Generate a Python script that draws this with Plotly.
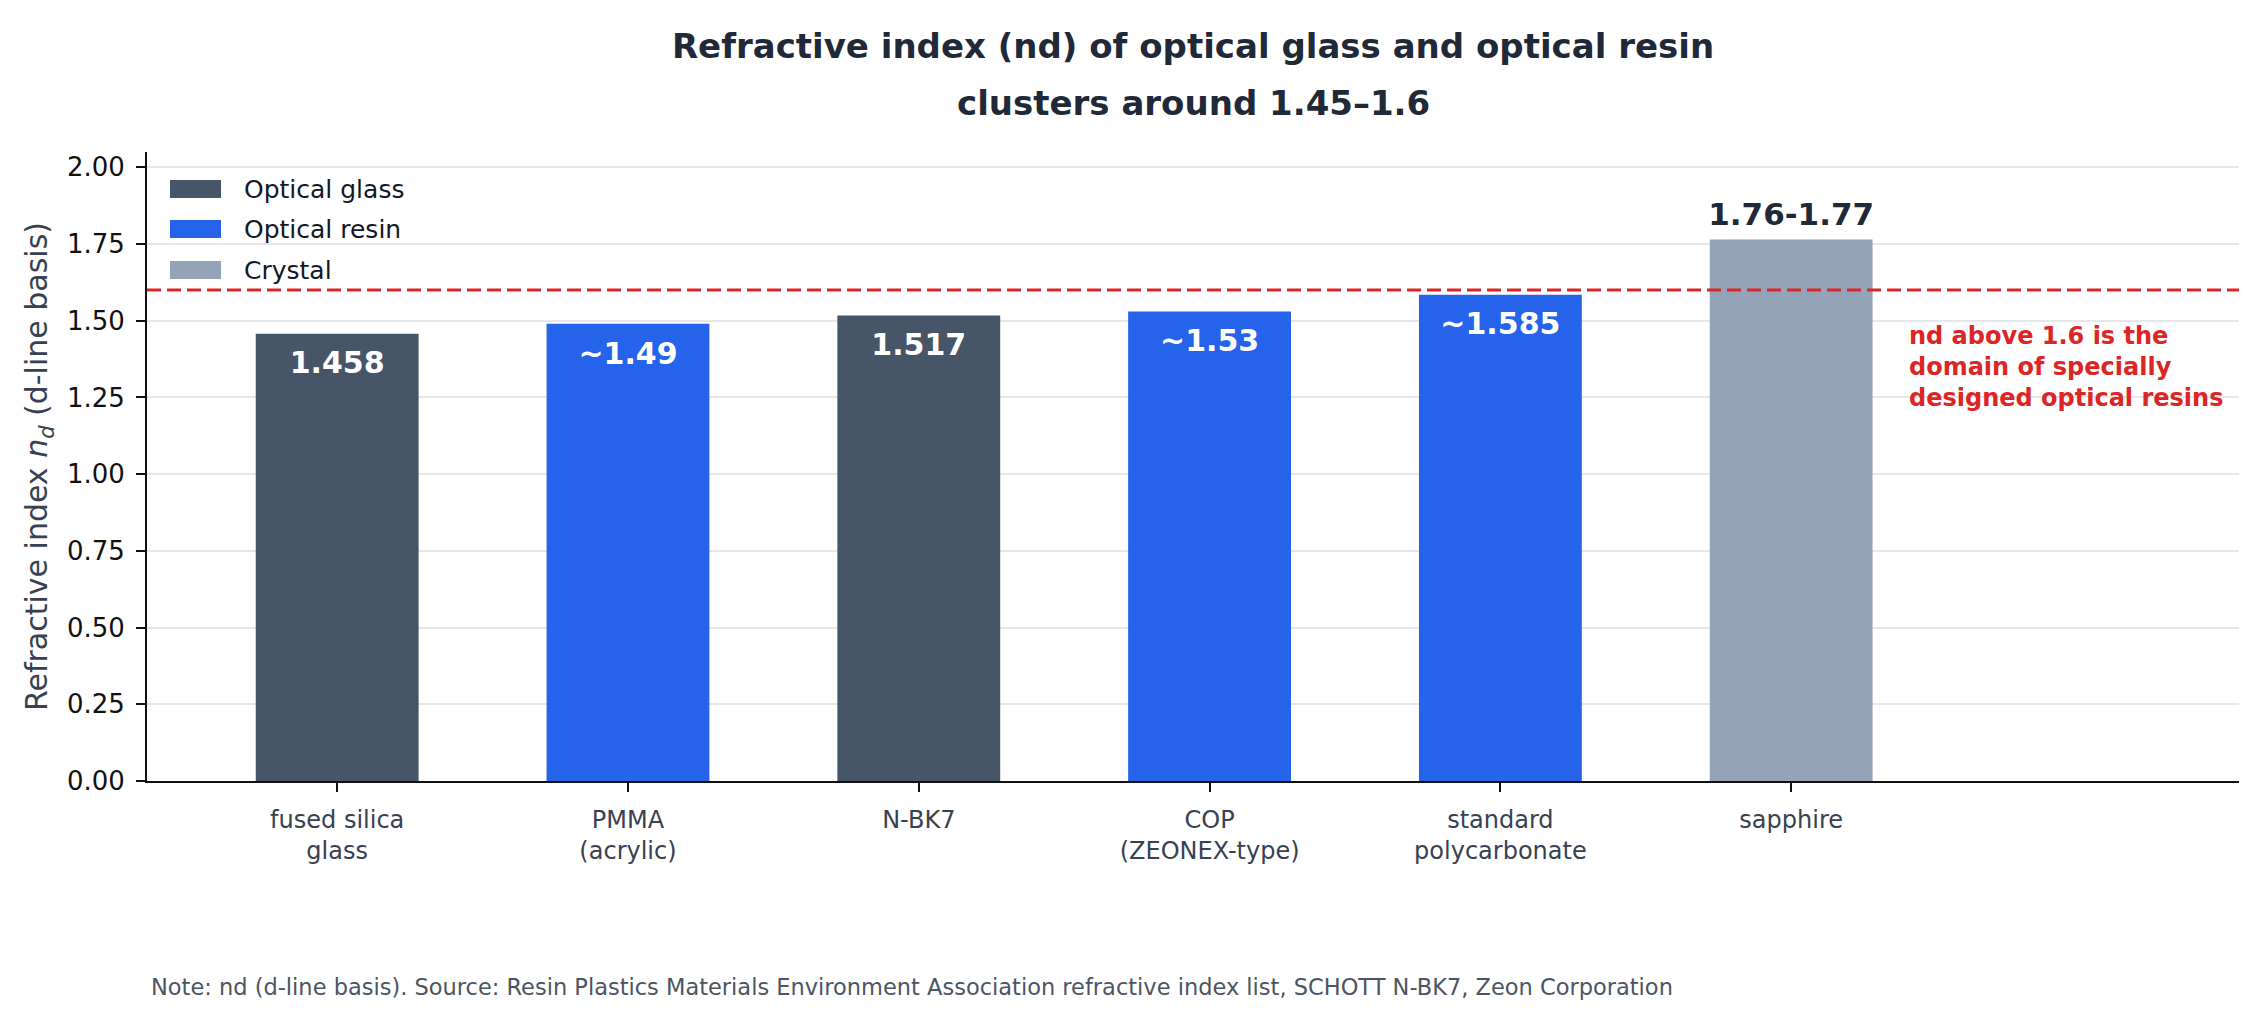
import plotly.graph_objects as go

# refractive index data (d-line)
categories = ["fused silica<br>glass", "PMMA<br>(acrylic)", "N-BK7",
              "COP<br>(ZEONEX-type)", "standard<br>polycarbonate", "sapphire"]
nd_values = [1.458, 1.49, 1.517, 1.53, 1.585, 1.765]
value_labels = ["1.458", "~1.49", "1.517", "~1.53", "~1.585", "1.76-1.77"]
material_groups = ["Optical glass", "Optical resin", "Optical glass",
                   "Optical resin", "Optical resin", "Crystal"]
group_names = ["Optical glass", "Optical resin", "Crystal"]
group_colors = {"Optical glass": "#475569", "Optical resin": "#2563eb", "Crystal": "#94a3b8"}
threshold = 1.6

FONT = "DejaVu Sans, Noto Sans, sans-serif"
DARK = "#1f2937"
RED = "#dc2626"

W, H = 2262, 1019
ML, MR, MT, MB = 147, 23, 152, 238
PW, PH = W - ML - MR, H - MT - MB


def px_x(px):
    return (px - ML) / PW


def px_y(px):
    return 1 - (px - MT) / PH


fig = go.Figure()

for g in group_names:
    xs = [c for c, m in zip(categories, material_groups) if m == g]
    ys = [v for v, m in zip(nd_values, material_groups) if m == g]
    fig.add_trace(go.Bar(
        x=xs, y=ys, name=g, width=0.56, showlegend=False,
        marker=dict(color=group_colors[g], line=dict(width=0)),
        hoverinfo="x+y"))

# value labels: white inside the bar top, dark above the crystal bar
inside_x, inside_y, inside_t = [], [], []
above_x, above_y, above_t = [], [], []
for c, v, t, m in zip(categories, nd_values, value_labels, material_groups):
    if m == "Crystal":
        above_x.append(c); above_y.append(v + 0.072); above_t.append(t)
    else:
        inside_x.append(c); inside_y.append(v - 0.105); inside_t.append(t)

fig.add_trace(go.Scatter(x=inside_x, y=inside_y, text=inside_t, mode="text",
                         textfont=dict(family=FONT, size=30, color="white", weight="bold"),
                         showlegend=False, hoverinfo="skip", cliponaxis=False))
fig.add_trace(go.Scatter(x=above_x, y=above_y, text=above_t, mode="text",
                         textfont=dict(family=FONT, size=31, color=DARK, weight="bold"),
                         showlegend=False, hoverinfo="skip", cliponaxis=False))

fig.add_shape(type="line", xref="paper", x0=0, x1=1, yref="y", y0=threshold, y1=threshold,
              line=dict(color=RED, width=3, dash="14px,6px"), layer="above")

fig.add_annotation(x=5.40, y=1.35, xref="x", yref="y", xanchor="left", yanchor="middle",
                   align="left", showarrow=False,
                   text="nd above 1.6 is the<br>domain of specially<br>designed optical resins",
                   font=dict(family=FONT, size=24, color=RED, weight="bold"))

# legend drawn by hand: wide colour swatches like the original
legend_rows = [189, 229, 270]
for g, row in zip(group_names, legend_rows):
    fig.add_shape(type="rect", xref="paper", yref="paper",
                  x0=px_x(170), x1=px_x(221), y0=px_y(row + 9), y1=px_y(row - 9),
                  fillcolor=group_colors[g], line=dict(width=0), layer="above")
    fig.add_annotation(x=px_x(242), y=px_y(row), xref="paper", yref="paper",
                       xanchor="left", yanchor="middle", showarrow=False, text=g,
                       font=dict(family=FONT, size=25, color="#111827"))

# second title line (bigger line gap than plotly's <br>)
fig.add_annotation(x=0.5, y=px_y(103), xref="paper", yref="paper", xanchor="center", yanchor="middle",
                   showarrow=False, text="clusters around 1.45–1.6",
                   font=dict(family=FONT, size=34, color=DARK, weight="bold"))

fig.add_annotation(x=px_x(149), y=px_y(987), xref="paper", yref="paper", xanchor="left", yanchor="middle",
                   showarrow=False,
                   text="Note: nd (d-line basis). Source: Resin Plastics Materials Environment Association refractive index list, SCHOTT N-BK7, Zeon Corporation",
                   font=dict(family=FONT, size=22.5, color="#4b5563"))

fig.update_layout(
    width=W, height=H,
    margin=dict(l=ML, r=MR, t=MT, b=MB),
    paper_bgcolor="white", plot_bgcolor="white",
    barmode="overlay", showlegend=False,
    font=dict(family=FONT, color=DARK),
    title=dict(text="Refractive index (nd) of optical glass and optical resin",
               x=0.5, xref="paper", y=1 - 46 / H, yref="container", yanchor="middle",
               font=dict(family=FONT, size=34, color=DARK, weight="bold")),
    xaxis=dict(categoryorder="array", categoryarray=categories,
               range=[-0.654, 6.54], showline=True, linecolor="#111111", linewidth=2,
               ticks="outside", ticklen=9, tickwidth=1.5, tickcolor="#111111",
               ticklabelstandoff=7,
               tickfont=dict(family=FONT, size=24, color="#374151"),
               showgrid=False, zeroline=False),
    yaxis=dict(range=[0, 2.05], tickvals=[0, 0.25, 0.5, 0.75, 1.0, 1.25, 1.5, 1.75, 2.0],
               tickformat=".2f", showline=True, linecolor="#111111", linewidth=2,
               ticks="outside", ticklen=9, tickwidth=1.5, tickcolor="#111111",
               ticklabelstandoff=6,
               tickfont=dict(family=FONT, size=26, color="#111111"),
               showgrid=True, gridcolor="#e5e7eb", gridwidth=1.5, zeroline=False,
               title=dict(text="Refractive index <i>n</i><sub><i>d</i></sub> (d-line basis)",
                          standoff=10, font=dict(family=FONT, size=30, color="#374151"))),
)

# page body margin would push the fixed-size figure off by 8px
fig.write_html("out.html", config={"displayModeBar": False},
               post_script="document.body.style.margin='0';")
